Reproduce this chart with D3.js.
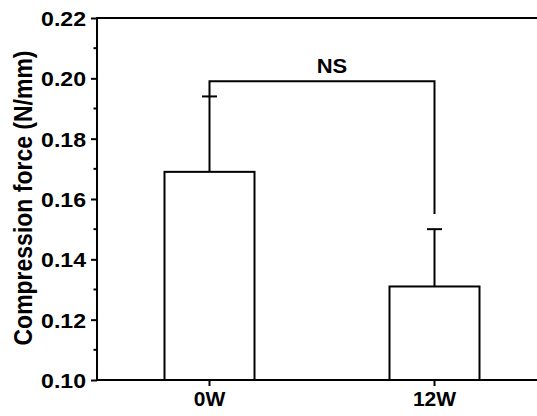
<!DOCTYPE html>
<html>
<head>
<meta charset="utf-8">
<script src="https://cdn.jsdelivr.net/npm/d3@7"></script>
<style>
  body { margin: 0; background: #fff; }
  text { font-family: "Liberation Sans", Arial, sans-serif; font-weight: bold; fill: #000; }
</style>
</head>
<body>
<svg id="chart" width="537" height="416"></svg>
<script>
// data
const groups = ["0W", "12W"];
const means = [0.169, 0.131];
const errors = [0.025, 0.019];
const yTicks = [0.10, 0.12, 0.14, 0.16, 0.18, 0.20, 0.22];
const sigLabel = "NS";
const bracketLevel = 0.199;
const bracketRightEnd = 0.155;

const svg = d3.select("#chart");
const plotLeft = 97, plotTop = 18, plotBottom = 380;

const x = d3.scaleBand()
  .domain(groups)
  .range([plotLeft, plotLeft + 450])
  .paddingInner(0.6)
  .paddingOuter(0.3);

const y = d3.scaleLinear().domain([0.10, 0.22]).range([plotBottom, plotTop]);

const g = svg.append("g");

// bars
g.selectAll("rect.bar")
  .data(groups)
  .enter()
  .append("rect")
  .attr("class", "bar")
  .attr("x", d => x(d))
  .attr("y", (d, i) => y(means[i]))
  .attr("width", x.bandwidth())
  .attr("height", (d, i) => y(0.10) - y(means[i]))
  .attr("fill", "white")
  .attr("stroke", "black")
  .attr("stroke-width", 2);

// error bars (upper only)
const cx = d => x(d) + x.bandwidth() / 2;
g.selectAll("line.err")
  .data(groups)
  .enter()
  .append("line")
  .attr("x1", cx).attr("x2", cx)
  .attr("y1", (d, i) => y(means[i]))
  .attr("y2", (d, i) => y(means[i] + errors[i]))
  .attr("stroke", "black").attr("stroke-width", 2);
g.selectAll("line.cap")
  .data(groups)
  .enter()
  .append("line")
  .attr("x1", d => cx(d) - 7.5).attr("x2", d => cx(d) + 7.5)
  .attr("y1", (d, i) => y(means[i] + errors[i]))
  .attr("y2", (d, i) => y(means[i] + errors[i]))
  .attr("stroke", "black").attr("stroke-width", 2);

// significance bracket
const bx0 = cx(groups[0]), bx1 = cx(groups[1]);
g.append("path")
  .attr("d", d3.line()([
    [bx0, y(means[0] + errors[0])],
    [bx0, y(bracketLevel)],
    [bx1, y(bracketLevel)],
    [bx1, y(bracketRightEnd)]
  ]))
  .attr("fill", "none").attr("stroke", "black").attr("stroke-width", 2);
g.append("text")
  .attr("transform", `translate(${(bx0 + bx1) / 2 + 10},${y(bracketLevel) - 8}) scale(1.1,1)`)
  .attr("text-anchor", "middle")
  .style("font-size", "20px")
  .text(sigLabel);

// y axis
const yAxis = g.append("g")
  .attr("transform", `translate(${plotLeft},0)`)
  .call(d3.axisLeft(y).tickValues(yTicks).tickFormat(d3.format(".2f")).tickSize(6).tickPadding(6));
yAxis.select(".domain").remove();
yAxis.selectAll(".tick line").attr("stroke-width", 2);
yAxis.selectAll(".tick text")
  .style("font-size", "21px")
  .attr("transform", "scale(1.1,1)")
  .attr("x", -11 / 1.1)
  .attr("dy", "0.36em");
// minor ticks
g.selectAll("line.minor")
  .data(d3.range(0.11, 0.22, 0.02))
  .enter()
  .append("line")
  .attr("x1", plotLeft - 3.5).attr("x2", plotLeft)
  .attr("y1", d => y(d)).attr("y2", d => y(d))
  .attr("stroke", "black").attr("stroke-width", 2);

// x axis
const xAxis = g.append("g")
  .attr("transform", `translate(0,${plotBottom})`)
  .call(d3.axisBottom(x).tickSize(6).tickPadding(3));
xAxis.select(".domain").remove();
xAxis.selectAll(".tick line").attr("stroke-width", 2);
xAxis.selectAll(".tick text")
  .style("font-size", "21px")
  .attr("dy", "0.8em");

// frame: left, bottom, top lines
g.append("path")
  .attr("d", `M537,${plotTop}H${plotLeft}V${plotBottom}H537`)
  .attr("fill", "none").attr("stroke", "black").attr("stroke-width", 2);

// y title
svg.append("text")
  .attr("transform", `translate(32,${(48 + 348) / 2}) rotate(-90) scale(1,1.1)`)
  .attr("text-anchor", "middle")
  .style("font-size", "23px")
  .text("Compression force (N/mm)");
</script>
</body>
</html>
